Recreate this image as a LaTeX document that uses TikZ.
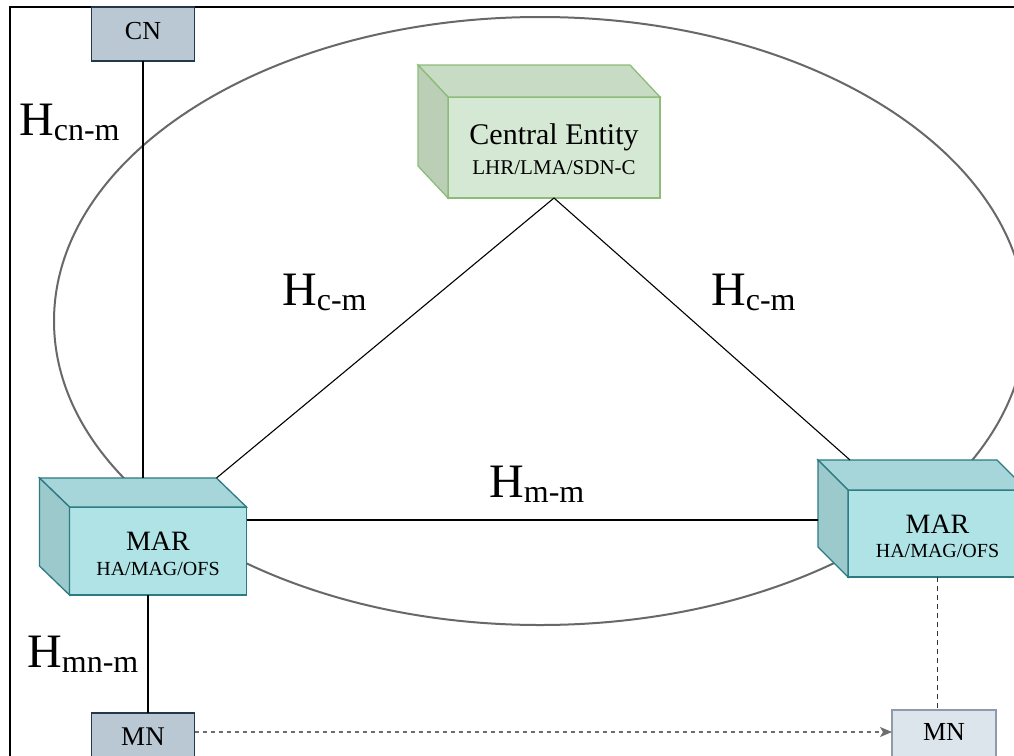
\documentclass[tikz,border=0pt]{standalone}
\usepackage{fontspec}
\setmainfont{Liberation Serif}
\usetikzlibrary{arrows.meta,calc}

\definecolor{ringgray}{HTML}{686868}
\definecolor{cefront}{HTML}{D5E8D4}
\definecolor{cetop}{HTML}{C8DCC5}
\definecolor{ceside}{HTML}{BBCFB7}
\definecolor{ceedge}{HTML}{8CBC78}
\definecolor{marfront}{HTML}{B0E3E6}
\definecolor{martop}{HTML}{A6D6D9}
\definecolor{marside}{HTML}{9CC9CC}
\definecolor{maredge}{HTML}{2C7A82}
\definecolor{nodefill}{HTML}{BAC8D3}
\definecolor{nodeedge}{HTML}{23384D}
\definecolor{ghostfill}{HTML}{DCE4EC}
\definecolor{ghostedge}{HTML}{8D9BAA}
\definecolor{arrowgray}{HTML}{6E6E6E}

\newcommand\hlabel[1]{\fontsize{48}{48}\selectfont H\raisebox{-5pt}{\fontsize{32}{32}\selectfont #1}}

\begin{document}
\begin{tikzpicture}[x=1pt,y=-1pt,
  front/.style={draw, rectangle, inner sep=0pt, outer sep=0pt, line width=1.3pt},
  ceface/.style={front, fill=cefront, draw=ceedge, minimum width=212pt, minimum height=101pt},
  marface/.style={front, fill=marfront, draw=maredge, minimum width=177pt, minimum height=88pt},
  hostbox/.style={front, fill=nodefill, draw=nodeedge, line width=1.1pt, minimum width=103pt},
  ghostbox/.style={front, fill=ghostfill, draw=ghostedge, line width=1.1pt, minimum width=104pt},
  link/.style={line width=1.1pt, black},
  ghostlink/.style={line width=1.1pt, black!80, dash pattern=on 5pt off 4pt},
  move/.style={line width=1.1pt, arrowgray, dash pattern=on 4pt off 4pt,
    -{Stealth[length=12pt,width=10pt,inset=3pt]}},
  lbl/.style={inner sep=0pt, anchor=base},
  hlbl/.style={inner sep=0pt, anchor=base west}
]
\useasboundingbox (0,0) rectangle (1014,755);
\clip (0,0) rectangle (1014,755);
\fill[white] (0,0) rectangle (1014,755);

% outer frame
\draw[line width=2.2pt] (10,770) -- (10,7) -- (1030,7);

% mobility domain
\draw[ringgray, line width=2pt] (540,321) ellipse [x radius=486, y radius=304];

% central entity (front face + top and side faces)
\node[ceface] (ce) at (554,147.5) {};
\filldraw[fill=cetop, draw=ceedge, line width=1.3pt]
  (ce.north west) -- ++(-30,-32) coordinate (ce-bk) -- ($(ce.north east)+(-30,-32)$) -- (ce.north east) -- cycle;
\filldraw[fill=ceside, draw=ceedge, line width=1.3pt]
  (ce.north west) -- (ce-bk) -- ($(ce.south west)+(-30,-32)$) -- (ce.south west) -- cycle;
\node[lbl, font=\fontsize{30}{30}\selectfont] (cetitle) at (554,144) {Central Entity};
\node[lbl, font=\fontsize{21}{21}\selectfont] (cesub) at (554,174) {LHR/LMA/SDN-C};

% left MAR
\node[marface] (marL) at (158,551) {};
\filldraw[fill=martop, draw=maredge, line width=1.3pt]
  (marL.north west) -- ++(-30,-29) coordinate (marL-bk) -- ($(marL.north east)+(-30,-29)$) coordinate (marL-bkr) -- (marL.north east) -- cycle;
\filldraw[fill=marside, draw=maredge, line width=1.3pt]
  (marL.north west) -- (marL-bk) -- ($(marL.south west)+(-30,-29)$) -- (marL.south west) -- cycle;
\node[lbl, font=\fontsize{28}{28}\selectfont] (marLt) at (158,550) {MAR};
\node[lbl, font=\fontsize{20}{20}\selectfont] (marLs) at (158,575) {HA/MAG/OFS};

% right MAR
\node[marface, minimum width=179pt, minimum height=87pt] (marR) at (937.5,533.5) {};
\filldraw[fill=martop, draw=maredge, line width=1.3pt]
  (marR.north west) -- ++(-30,-30) coordinate (marR-bk) -- ($(marR.north east)+(-30,-30)$) -- (marR.north east) -- cycle;
\filldraw[fill=marside, draw=maredge, line width=1.3pt]
  (marR.north west) -- (marR-bk) -- ($(marR.south west)+(-30,-30)$) -- (marR.south west) -- cycle;
\node[lbl, font=\fontsize{28}{28}\selectfont] (marRt) at (937.5,533) {MAR};
\node[lbl, font=\fontsize{20}{20}\selectfont] (marRs) at (937.5,557) {HA/MAG/OFS};

% correspondent and mobile nodes
\node[hostbox, minimum height=54pt] (cn) at (143,34) {};
\node[lbl, font=\fontsize{26}{26}\selectfont] (cnt) at (143,39.5) {CN};
\node[hostbox, minimum height=46pt] (mnL) at (143,736) {};
\node[lbl, font=\fontsize{27}{27}\selectfont] (mnLt) at (143,745) {MN};
\node[ghostbox, minimum height=50pt] (mnR) at (944,735) {};
\node[lbl, font=\fontsize{26}{26}\selectfont] (mnRt) at (944,740) {MN};

% interfaces
\draw[link] (ce.south) -- (marL-bkr);
\draw[link] (ce.south) -- ($(marR-bk)+(32,0)$);
\draw[link] ($(marL.north east)+(0,13)$) coordinate (hmm-a) -- (hmm-a -| marR-bk);
\draw[link] (cn.south) -- (cn.south |- marL-bk);
\draw[link] ($(mnL.north)+(5,0)$) coordinate (mn-up) -- (mn-up |- marL.south);
\draw[ghostlink] (marR.south) -- (marR.south |- mnR.north);
\draw[move] (mnL.east) ++(0,-4) coordinate (mv-a) -- (mv-a -| mnR.west);

% interface labels
\node[hlbl] (lcn) at (19,135) {\hlabel{cn-m}};
\node[hlbl] (lcml) at (282,305) {\hlabel{c-m}};
\node[hlbl] (lcmr) at (711,305) {\hlabel{c-m}};
\node[hlbl] (lmm) at (489,497) {\hlabel{m-m}};
\node[hlbl] (lmn) at (27,667) {\hlabel{mn-m}};
\end{tikzpicture}
\end{document}
